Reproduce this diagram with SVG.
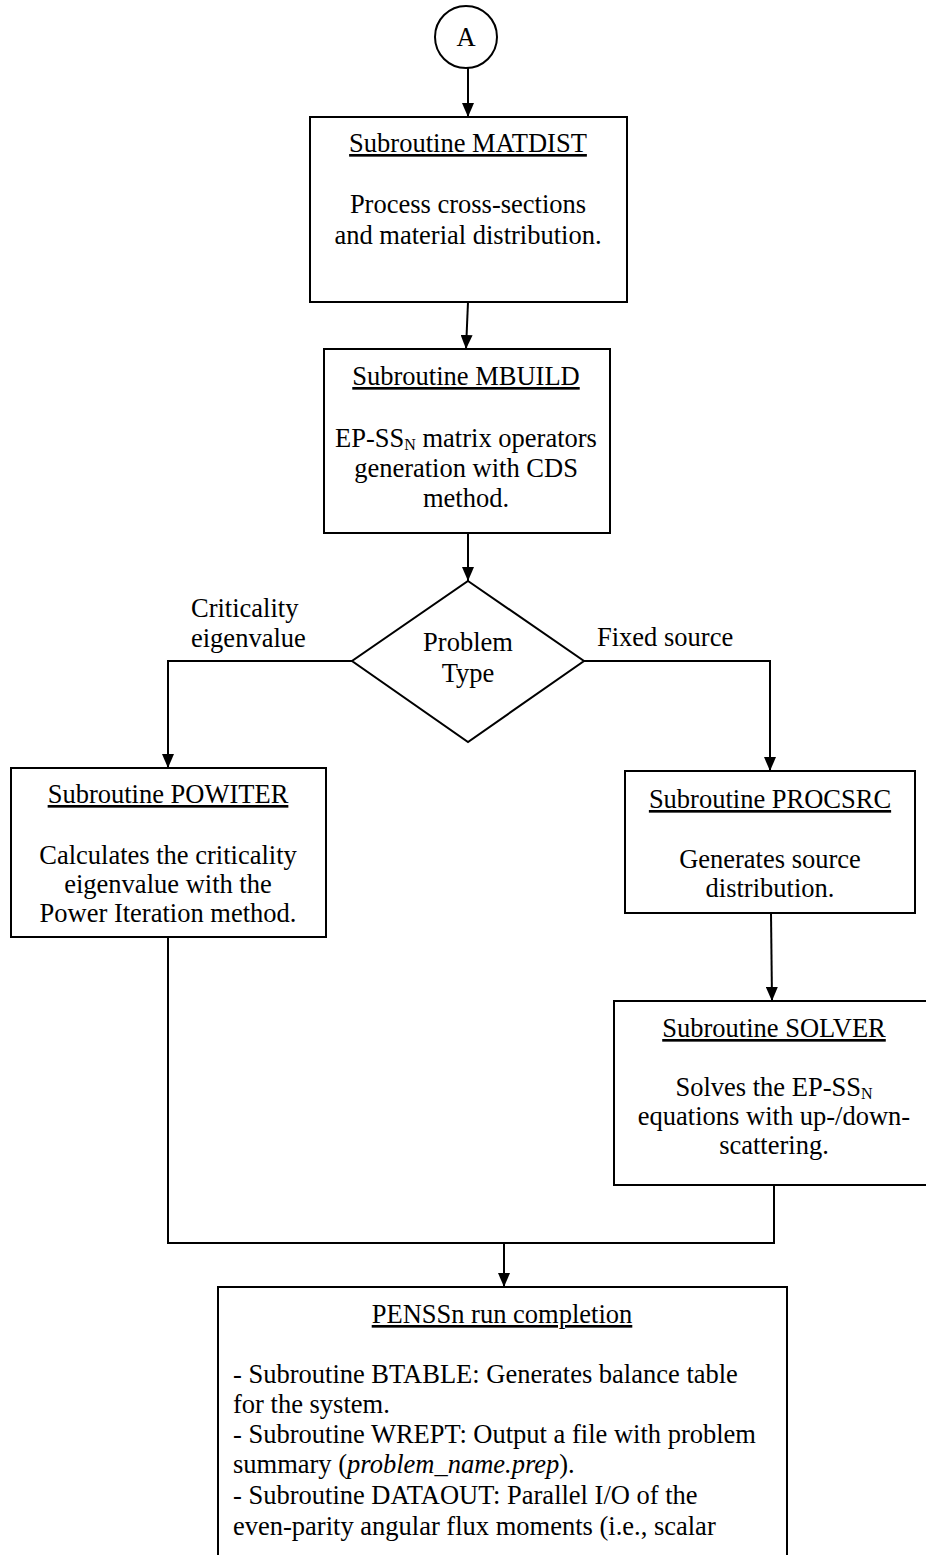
<svg xmlns="http://www.w3.org/2000/svg" width="926" height="1555" viewBox="0 0 926 1555">
<style>
  text { font-family: "Liberation Serif", "Times New Roman", serif; font-size: 26.5px; fill: #000; }
  .c { text-anchor: middle; }
  .t { text-decoration: underline; }
  .box { fill: #fff; stroke: #000; stroke-width: 2; }
  .ln { fill: none; stroke: #000; stroke-width: 2; }
  .sub { font-size: 16px; }
</style>
<defs>
  <marker id="ah" viewBox="0 0 14 12" refX="14" refY="6" markerWidth="14" markerHeight="12" markerUnits="userSpaceOnUse" orient="auto">
    <path d="M0,0 L14,6 L0,12 z" fill="#000"/>
  </marker>
</defs>
<rect width="926" height="1555" fill="#fff"/>

<g id="connectors">
  <line class="ln" x1="468" y1="68" x2="468" y2="117" marker-end="url(#ah)"/>
  <line class="ln" x1="468" y1="302" x2="466" y2="349" marker-end="url(#ah)"/>
  <line class="ln" x1="468" y1="533" x2="468" y2="581" marker-end="url(#ah)"/>
  <polyline class="ln" points="352,661 168,661 168,768" marker-end="url(#ah)"/>
  <polyline class="ln" points="584,661 770,661 770,771" marker-end="url(#ah)"/>
  <line class="ln" x1="771" y1="913" x2="772" y2="1001" marker-end="url(#ah)"/>
  <polyline class="ln" points="168,937 168,1243 774,1243 774,1185"/>
  <line class="ln" x1="504" y1="1243" x2="504" y2="1287" marker-end="url(#ah)"/>
  <text x="191" y="617">Criticality</text>
  <text x="191" y="647">eigenvalue</text>
  <text x="597" y="646">Fixed source</text>
</g>

<g id="nodeA">
  <circle cx="466" cy="37" r="31" class="box"/>
  <text class="c" x="466" y="46">A</text>
</g>

<g id="matdist">
  <rect class="box" x="310" y="117" width="317" height="185"/>
  <text class="c t" x="468" y="152">Subroutine MATDIST</text>
  <text class="c" x="468" y="213">Process cross-sections</text>
  <text class="c" x="468" y="244">and material distribution.</text>
</g>

<g id="mbuild">
  <rect class="box" x="324" y="349" width="286" height="184"/>
  <text class="c t" x="466" y="385">Subroutine MBUILD</text>
  <text class="c" x="466" y="447">EP-SS<tspan class="sub" dy="3">N</tspan><tspan dy="-3"> matrix operators</tspan></text>
  <text class="c" x="466" y="477">generation with CDS</text>
  <text class="c" x="466" y="507">method.</text>
</g>

<g id="decision">
  <polygon class="box" points="468,581 584,661 468,742 352,661"/>
  <text class="c" x="468" y="651">Problem</text>
  <text class="c" x="468" y="682">Type</text>
</g>

<g id="powiter">
  <rect class="box" x="11" y="768" width="315" height="169"/>
  <text class="c t" x="168" y="803">Subroutine POWITER</text>
  <text class="c" x="168" y="864">Calculates the criticality</text>
  <text class="c" x="168" y="893">eigenvalue with the</text>
  <text class="c" x="168" y="922">Power Iteration method.</text>
</g>

<g id="procsrc">
  <rect class="box" x="625" y="771" width="290" height="142"/>
  <text class="c t" x="770" y="808">Subroutine PROCSRC</text>
  <text class="c" x="770" y="868">Generates source</text>
  <text class="c" x="770" y="897">distribution.</text>
</g>

<g id="solver">
  <rect class="box" x="614" y="1001" width="330" height="184"/>
  <text class="c t" x="774" y="1037">Subroutine SOLVER</text>
  <text class="c" x="774" y="1096">Solves the EP-SS<tspan class="sub" dy="3">N</tspan></text>
  <text class="c" x="774" y="1125">equations with up-/down-</text>
  <text class="c" x="774" y="1154">scattering.</text>
</g>

<g id="completion">
  <rect class="box" x="218" y="1287" width="569" height="300"/>
  <text class="c t" x="502" y="1323">PENSSn run completion</text>
  <text x="233" y="1383">- Subroutine BTABLE: Generates balance table</text>
  <text x="233" y="1413">for the system.</text>
  <text x="233" y="1443">- Subroutine WREPT: Output a file with problem</text>
  <text x="233" y="1473">summary (<tspan font-style="italic">problem_name.prep</tspan>).</text>
  <text x="233" y="1504">- Subroutine DATAOUT: Parallel I/O of the</text>
  <text x="233" y="1535">even-parity angular flux moments (i.e., scalar</text>
</g>
</svg>
